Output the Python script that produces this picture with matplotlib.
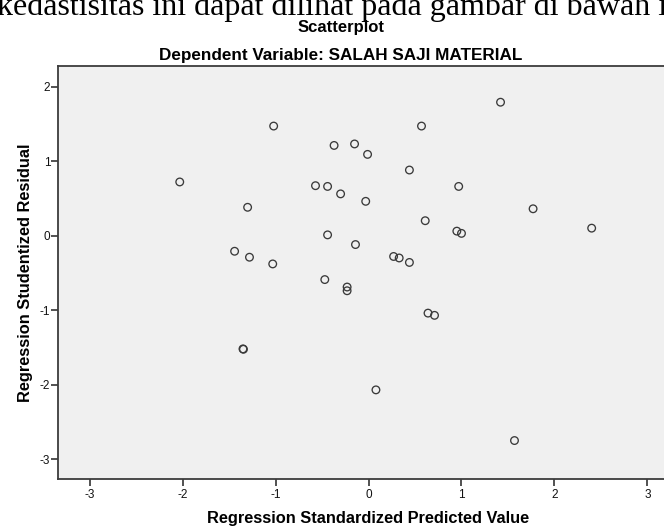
import matplotlib
matplotlib.use("Agg")
import matplotlib.pyplot as plt

plt.rcParams['font.family'] = ['Liberation Sans', 'DejaVu Sans']
plt.rcParams['axes.unicode_minus'] = False

# ---------------- Data ----------------
predicted = [-1.02, 0.57, -0.37, -0.15, -0.01, 0.44, -2.03, -0.57, -0.44, -0.30,
             -0.03, -1.30, 0.61, -0.44, -0.14, -1.44, -1.28, 0.27, 0.33, 0.44,
             -1.03, -0.47, -0.23, -0.23, 1.42, 0.97, 1.77, 0.95, 1.00, 2.40,
             0.64, 0.71, -1.35, -1.345, 0.08, 1.57]
residual = [1.47, 1.47, 1.21, 1.23, 1.09, 0.88, 0.72, 0.67, 0.66, 0.56,
            0.46, 0.38, 0.20, 0.01, -0.12, -0.21, -0.29, -0.28, -0.30, -0.36,
            -0.38, -0.59, -0.69, -0.74, 1.79, 0.66, 0.36, 0.06, 0.03, 0.10,
            -1.04, -1.07, -1.52, -1.525, -2.07, -2.75]

x_ticks = [-3, -2, -1, 0, 1, 2, 3]
y_ticks = [-3, -2, -1, 0, 1, 2]

W, H = 664, 529
fig = plt.figure(figsize=(W / 100, H / 100), dpi=100)

# axes box in pixels (right side runs off the picture, like the crop)
left, right, top, bottom = 58.3, 678.7, 65.7, 479.3
ax = fig.add_axes([left / W, 1 - bottom / H, (right - left) / W, (bottom - top) / H])
ax.set_facecolor('#f0f0f0')

ax.scatter(predicted, residual, s=30, facecolors='none', edgecolors='#3a3a3a',
           linewidths=0.95, zorder=3)

ax.set_xlim(-3.336, 3.336)
ax.set_ylim(-3.27, 2.28)
ax.set_xticks(x_ticks)
ax.set_yticks(y_ticks)
ax.tick_params(direction='out', length=5, width=1.1, color='#222222',
               labelsize=8.5, labelcolor='#111111')
ax.tick_params(axis='y', pad=0.8)
ax.tick_params(axis='x', pad=2)

for sp in ax.spines.values():
    sp.set_color('#3c3c3c')
    sp.set_linewidth(1.3)

ax.set_xlabel('Regression Standardized Predicted Value', fontsize=11.8,
              fontweight='bold', labelpad=7)
ax.set_ylabel('Regression Studentized Residual', fontsize=11.8,
              fontweight='bold', labelpad=5)

# ---------------- Texts above the chart ----------------
fig.text(-3 / W, 1 - 15 / H,
         'kedastisitas ini dapat dilihat pada gambar di bawah ini',
         family=['Liberation Serif', 'DejaVu Serif'], fontsize=23,
         ha='left', va='baseline')
fig.text(341 / W, 1 - 32 / H, 'Scatterplot', fontsize=12, fontweight='bold',
         ha='center', va='baseline')
fig.text(341 / W, 1 - 60 / H, 'Dependent Variable: SALAH SAJI MATERIAL',
         fontsize=12.3, fontweight='bold', ha='center', va='baseline')

fig.savefig('out.png', dpi=100)
